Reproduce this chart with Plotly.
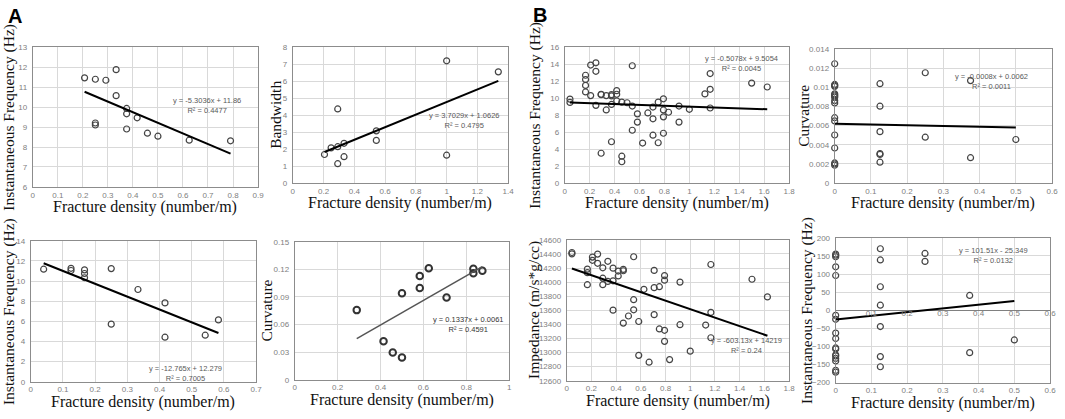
import plotly.graph_objects as go

# ---- panel A ----
# top left: instantaneous frequency vs fracture density
a1_x = [0.207, 0.25, 0.292, 0.333, 0.333, 0.375, 0.375, 0.417,
        0.25, 0.25, 0.375, 0.458, 0.5, 0.625, 0.79]
a1_y = [11.46, 11.39, 11.34, 11.87, 10.57, 9.93, 9.66, 9.46,
        9.2, 9.1, 8.9, 8.69, 8.54, 8.34, 8.31]

# top right: bandwidth
a2_x = [0.206, 0.249, 0.292, 0.292, 0.292, 0.333, 0.333, 0.543, 0.543, 1.0, 1.0, 1.336]
a2_y = [1.68, 2.07, 2.14, 1.14, 4.36, 2.34, 1.55, 3.07, 2.51, 7.19, 1.64, 6.54]

# bottom left: instantaneous frequency
a3_x = [0.04, 0.125, 0.125, 0.167, 0.167, 0.167, 0.25, 0.25, 0.333, 0.417, 0.417, 0.542, 0.583]
a3_y = [11.18, 11.27, 11.05, 11.11, 10.75, 10.33, 11.24, 5.72, 9.16, 7.83, 4.42, 4.62, 6.14]

# bottom right: curvature
a4_x = [0.289, 0.414, 0.457, 0.5, 0.5, 0.583, 0.583, 0.625, 0.708, 0.833, 0.833, 0.875]
a4_y = [0.0757, 0.0418, 0.0297, 0.0241, 0.0941, 0.1129, 0.0998, 0.1213, 0.0895, 0.1206, 0.1157, 0.1185]

# ---- panel B ----
# top left: instantaneous frequency
b1_x = [0.042, 0.042, 0.208, 0.25, 0.25, 0.167, 0.167, 0.167, 0.167, 0.208,
        0.25, 0.292, 0.292, 0.333, 0.375, 0.375, 0.417, 0.417, 0.417, 0.333,
        0.375, 0.458, 0.5, 0.542, 0.542, 0.542, 0.583, 0.583, 0.625, 0.667,
        0.708, 0.708, 0.708, 0.75, 0.75, 0.792, 0.792, 0.792, 0.792, 0.833,
        0.917, 0.917, 1.0, 1.125, 1.167, 1.167, 1.167, 1.5, 1.625, 0.292,
        0.375, 0.458, 0.458]
b1_y = [9.87, 9.49, 13.88, 14.15, 13.15, 12.68, 12.18, 11.49, 10.72, 10.29,
        9.14, 10.45, 10.4, 10.29, 10.26, 10.4, 10.87, 10.45, 9.68, 8.6,
        9.25, 9.52, 9.45, 9.06, 13.8, 6.21, 8.14, 7.17, 4.71, 8.25,
        8.94, 7.56, 5.63, 9.52, 4.74, 9.91, 8.6, 7.79, 5.86, 8.33,
        9.06, 7.17, 8.68, 10.49, 12.88, 11.03, 8.83, 11.76, 11.3, 3.51,
        4.86, 3.16, 2.51]

# top right: curvature
b2_x = [0] * 17 + [0.125] * 6 + [0.25] * 2 + [0.375] * 2 + [0.5]
b2_y = [0.01246, 0.0103, 0.0102, 0.0101, 0.00932, 0.00921, 0.0091, 0.00897, 0.00861,
        0.00837, 0.00683, 0.00649, 0.00502, 0.00366, 0.0021, 0.002, 0.00186,
        0.01038, 0.00803, 0.00537, 0.00309, 0.00299, 0.00218,
        0.01152, 0.00479,
        0.0107, 0.00265,
        0.00455]

# bottom left: impedance
b3_x = [0.042, 0.042, 0.167, 0.167, 0.167, 0.208, 0.208, 0.25, 0.25, 0.292,
        0.292, 0.292, 0.333, 0.333, 0.375, 0.375, 0.375, 0.417, 0.417, 0.458,
        0.458, 0.458, 0.5, 0.542, 0.542, 0.542, 0.583, 0.583, 0.625, 0.667,
        0.708, 0.708, 0.708, 0.75, 0.75, 0.792, 0.792, 0.792, 0.792, 0.833,
        0.917, 0.917, 1.0, 1.125, 1.167, 1.167, 1.167, 1.5, 1.625]
b3_y = [14420, 14401, 14184, 14134, 13963, 14355, 14309, 14397, 14267, 14203,
        14055, 13963, 14295, 14009, 14198, 14018, 13602, 14157, 14087, 14180,
        14161, 13418, 13519, 14360, 13750, 13607, 13441, 12960, 13898, 12863,
        14166, 13921, 13538, 13935, 13335, 14092, 14027, 13316, 13159, 12900,
        14000, 13395, 13020, 13390, 14250, 13570, 13210, 14040, 13790]

# bottom right: instantaneous frequency
b4_x = [0] * 17 + [0.125] * 7 + [0.25] * 2 + [0.375] * 2 + [0.5]
b4_y = [155, 152, 148, 120, 96, -14, -25, -63, -78, -104, -107, -123, -126, -133, -140, -166, -171,
        170, 139, 65, 14, -45, -128, -156,
        157, 135,
        41, -117,
        -82]

# Excel trendline equations (slope, intercept) and labels
slopes = [-5.3036, 3.7029, -12.765, 0.1337, -0.5078, -0.0008, -603.13, 101.51]
intercepts = [11.86, 1.0626, 12.279, 0.0061, 9.5054, 0.0062, 14219, -25.349]
eq_labels = ['y = -5.3036x + 11.86<br>R² = 0.4477',
             'y = 3.7029x + 1.0626<br>R² = 0.4795',
             'y = -12.765x + 12.279<br>R² = 0.7005',
             'y = 0.1337x + 0.0061<br>R² = 0.4591',
             'y = -0.5078x + 9.5054<br>R² = 0.0045',
             'y = -0.0008x + 0.0062<br>R² = 0.0011',
             'y = -603.13x + 14219<br>R² = 0.24',
             'y = 101.51x - 25.349<br>R² = 0.0132']

x_title = 'Fracture density (number/m)'
y_titles = ['Instantaneous Frequency (Hz)', 'Bandwidth',
            'Instantaneous Frequency (Hz)', 'Curvature',
            'Instantaneous Frequency (Hz)', 'Curvature',
            'Impedance (m/s*g/cc)', 'Instantaneous Frequency (Hz)']
x_ranges = [[0, 0.9], [0, 1.4], [0, 0.7], [0, 1], [0, 1.8], [0, 0.6], [0, 1.8], [0, 0.6]]
x_dticks = [0.1, 0.2, 0.1, 0.2, 0.2, 0.1, 0.2, 0.1]
y_ranges = [[6, 13], [0, 8], [0, 14], [0, 0.15], [0, 16], [0, 0.014], [12600, 14600], [-200, 200]]
y_dticks = [1, 1, 2, 0.03, 2, 0.002, 200, 50]
zero_ticks = [0.1, 0.2, 0.3, 0.4, 0.5, 0.6]

W, H = 1065, 419
# plot areas in pixels: left, right, top, bottom
boxes = [(31, 258, 44, 187), (293, 510, 44, 183), (29, 256, 242, 386), (295, 511, 243, 384),
         (567, 793, 44, 183), (839, 1058, 46, 183), (569, 793, 241, 385), (840, 1056, 239, 387)]
# equation label centres (fraction of plot area)
eq_pos = [(0.775, 0.58), (0.793, 0.46), (0.687, 0.056), (0.806, 0.404),
          (0.788, 0.878), (0.721, 0.759), (0.808, 0.25), (0.736, 0.878)]
# horizontal offset (px) of the y title from the left edge of the plot area
ytitle_shift = [-24, -18, -22, -28, -30, -32, -32, -28]

SERIF = 'Liberation Serif'
SANS = 'Liberation Sans'
GREY = '#808080'

data = [(a1_x, a1_y), (a2_x, a2_y), (a3_x, a3_y), (a4_x, a4_y),
        (b1_x, b1_y), (b2_x, b2_y), (b3_x, b3_y), (b4_x, b4_y)]

fig = go.Figure()
for i, (xs, ys) in enumerate(data):
    n = i + 1
    xa, ya = ('x', 'y') if n == 1 else (f'x{n}', f'y{n}')
    bold = (i == 3)
    fig.add_trace(go.Scatter(
        x=xs, y=ys, xaxis=xa, yaxis=ya, mode='markers', showlegend=False,
        cliponaxis=False,
        marker=dict(symbol='circle-open', size=6.5 if bold else 6,
                    color='#333333' if bold else '#444444',
                    line=dict(width=2 if bold else 1.2))
    ))
    lo, hi = min(xs), max(xs)
    fig.add_trace(go.Scatter(
        x=[lo, hi], y=[slopes[i] * lo + intercepts[i], slopes[i] * hi + intercepts[i]],
        xaxis=xa, yaxis=ya, mode='lines', showlegend=False,
        line=dict(color='#555555' if bold else 'black', width=1.5 if bold else 2)
    ))
    l, r, t, b = boxes[i]
    key = '' if n == 1 else str(n)
    fig.layout['xaxis' + key] = dict(
        domain=[l / W, r / W], anchor=ya, range=x_ranges[i], dtick=x_dticks[i],
        showgrid=True, gridcolor='#d9d9d9', zeroline=False,
        showline=True, linecolor='#8c8c8c', mirror=True, ticks='',
        tickfont=dict(family=SANS, size=8, color=GREY)
    )
    fig.layout['yaxis' + key] = dict(
        domain=[1 - b / H, 1 - t / H], anchor=xa, range=y_ranges[i], dtick=y_dticks[i],
        showgrid=True, gridcolor='#d9d9d9', zeroline=(n == 8),
        zerolinecolor='#808080', zerolinewidth=1,
        showline=True, linecolor='#8c8c8c', mirror=True, ticks='',
        ticklabelstandoff=3,
        tickformat='d' if n in (7, 8) else None,
        tickfont=dict(family=SANS, size=8, color=GREY)
    )
    fig.add_annotation(
        text=eq_labels[i], xref=f'{xa} domain', yref=f'{ya} domain',
        x=eq_pos[i][0], y=eq_pos[i][1], xanchor='center', yanchor='middle',
        showarrow=False, align='center',
        font=dict(family=SANS, size=7.5, color='#333333' if bold else '#595959')
    )
    # axis titles
    fig.add_annotation(
        text=x_title, xref=f'{xa} domain', yref=f'{ya} domain', x=0.5, y=0,
        xanchor='center', yanchor='middle', yshift=-20, showarrow=False,
        font=dict(family=SERIF, size=16, color='#111111')
    )
    fig.add_annotation(
        text=y_titles[i], xref=f'{xa} domain', yref=f'{ya} domain', x=0, y=0.5,
        xanchor='center', yanchor='middle', xshift=ytitle_shift[i], textangle=-90,
        showarrow=False, font=dict(family=SERIF, size=15.5, color='#111111')
    )

# tick labels along the zero line of the last panel (Excel axis crossing at 0)
fig.add_trace(go.Scatter(
    x=zero_ticks, y=[0] * len(zero_ticks), xaxis='x8', yaxis='y8', mode='text',
    text=[f'{v:g}' for v in zero_ticks], textposition='bottom center',
    textfont=dict(family=SANS, size=8, color=GREY), cliponaxis=False, showlegend=False
))

for label, px, py in [('A', 13.5, 12), ('B', 542, 11)]:
    fig.add_annotation(
        text=f'<b>{label}</b>', xref='paper', yref='paper', x=px / W, y=1 - py / H,
        xanchor='center', yanchor='middle', showarrow=False,
        font=dict(family=SANS, size=20, color='black')
    )

fig.update_layout(
    width=W, height=H, margin=dict(l=0, r=0, t=0, b=0),
    paper_bgcolor='white', plot_bgcolor='white'
)
# drop the browser's default page margin so the figure sits at the window origin
fig.write_html('out.html', config={'displayModeBar': False},
               post_script="document.body.style.margin = '0';")
